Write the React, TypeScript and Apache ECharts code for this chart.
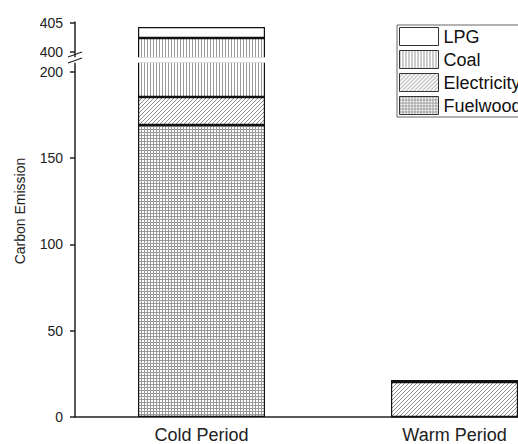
import React, { useEffect, useRef } from 'react';
import * as echarts from 'echarts';

const categories = ['Cold Period', 'Warm Period'];
const legendOrder = ['LPG', 'Coal', 'Electricity', 'Fuelwood'];
const fuelwood = [169.2, 0];
const electricity = [16.2, 20.3];
const coal = [217.0, 0];
const lpg = [1.9, 1.2];
const lowerTicks = [0, 50, 100, 150, 200];
const upperTicks = [400, 405];

function svgUrl(w: number, h: number, body: string) {
  const s = `<svg xmlns='http://www.w3.org/2000/svg' width='${w}' height='${h}'><rect width='${w}' height='${h}' fill='white'/>${body}</svg>`;
  return 'data:image/svg+xml;charset=utf-8,' + encodeURIComponent(s);
}

const gridPattern = {
  image: svgUrl(3, 3, "<rect x='0' y='0' width='3' height='1' fill='#999999'/><rect x='0' y='0' width='1' height='3' fill='#999999'/>"),
  repeat: 'repeat',
  imageWidth: 3,
  imageHeight: 3,
};
const diagPattern = {
  image: svgUrl(4, 4, "<path d='M-1,1 L1,-1 M0,4 L4,0 M3,5 L5,3' stroke='#808080' stroke-width='0.9'/>"),
  repeat: 'repeat',
  imageWidth: 4,
  imageHeight: 4,
};
const vertPattern = {
  image: svgUrl(3, 3, "<rect x='0' y='0' width='1' height='3' fill='#9a9a9a'/>"),
  repeat: 'repeat',
  imageWidth: 3,
  imageHeight: 3,
};

const FONT = 'Liberation Sans, Arial, Helvetica, sans-serif';

export default function App() {
  const ref = useRef<HTMLDivElement>(null);
  useEffect(() => {
    if (!ref.current) return;
    const chart = echarts.init(ref.current, null, { renderer: 'svg' });
    const defs = [
      { name: 'Fuelwood', data: fuelwood, color: gridPattern },
      { name: 'Electricity', data: electricity, color: diagPattern },
      { name: 'Coal', data: coal, color: vertPattern },
      { name: 'LPG', data: lpg, color: '#ffffff' },
    ];
    const series: any[] = [];
    [0, 1].forEach((gi) => {
      defs.forEach((d) => {
        series.push({
          type: 'bar',
          name: d.name,
          data: d.data,
          stack: 'stack' + gi,
          xAxisIndex: gi,
          yAxisIndex: gi,
          barWidth: 127,
          clip: true,
          silent: true,
          itemStyle: { color: d.color, borderColor: '#111', borderWidth: 1.2 },
        });
      });
    });
    const axisLineStyle = { color: '#222', width: 1.5 };
    chart.setOption({
      animation: false,
      backgroundColor: '#ffffff',
      grid: [
        { left: 75, top: 62, width: 506, height: 355, outerBoundsMode: 'none', containLabel: false },
        { left: 75, top: 22, width: 506, height: 36, outerBoundsMode: 'none', containLabel: false },
      ],
      xAxis: [
        {
          type: 'category',
          gridIndex: 0,
          data: categories,
          axisLine: { lineStyle: axisLineStyle },
          axisTick: { show: false },
          axisLabel: { fontSize: 18, color: '#222', fontFamily: FONT, margin: 9 },
        },
        {
          type: 'category',
          gridIndex: 1,
          data: categories,
          show: false,
        },
      ],
      yAxis: [
        {
          type: 'value',
          gridIndex: 0,
          min: 0,
          max: 205.7,
          splitLine: { show: false },
          axisLine: { show: true, lineStyle: axisLineStyle },
          axisTick: { show: true, length: 5, customValues: lowerTicks, lineStyle: axisLineStyle },
          axisLabel: { customValues: lowerTicks, fontSize: 14, color: '#222', fontFamily: FONT, margin: 12 },
        },
        {
          type: 'value',
          gridIndex: 1,
          min: 398.96,
          max: 405.17,
          splitLine: { show: false },
          axisLine: { show: true, onZero: false, lineStyle: axisLineStyle },
          axisTick: { show: true, length: 5, customValues: upperTicks, lineStyle: axisLineStyle },
          axisLabel: { customValues: upperTicks, fontSize: 14, color: '#222', fontFamily: FONT, margin: 12 },
        },
      ],
      legend: {
        data: legendOrder,
        orient: 'vertical',
        left: 397,
        top: 25,
        icon: 'rect',
        itemWidth: 39,
        itemHeight: 18,
        itemGap: 4,
        padding: [2, 40, 2, 2],
        borderColor: '#666',
        borderWidth: 1,
        selectedMode: false,
        textStyle: { fontSize: 18, color: '#111', fontFamily: FONT },
        itemStyle: { borderColor: '#333', borderWidth: 1 },
        z: 200,
      },
      series,
      graphic: [
        {
          type: 'rect',
          shape: { x: 70, y: 57.2, width: 320, height: 5.6 },
          style: { fill: '#ffffff' },
          z: 100,
        },
        {
          type: 'line',
          shape: { x1: 68, y1: 57, x2: 82, y2: 52 },
          style: { stroke: '#222', lineWidth: 1.3 },
          z: 101,
        },
        {
          type: 'line',
          shape: { x1: 68, y1: 63, x2: 82, y2: 58 },
          style: { stroke: '#222', lineWidth: 1.3 },
          z: 101,
        },
        {
          type: 'text',
          x: 20,
          y: 211,
          rotation: Math.PI / 2,
          style: {
            text: 'Carbon Emission',
            fontSize: 14,
            fontFamily: FONT,
            fill: '#222',
            align: 'center',
            verticalAlign: 'middle',
            textAlign: 'center',
            textVerticalAlign: 'middle',
          },
          z: 101,
        },
      ],
    });
    return () => chart.dispose();
  }, []);
  return (
    <div
      ref={ref}
      style={{ position: 'fixed', left: 0, top: 0, width: 518, height: 444, background: '#fff' }}
    />
  );
}
